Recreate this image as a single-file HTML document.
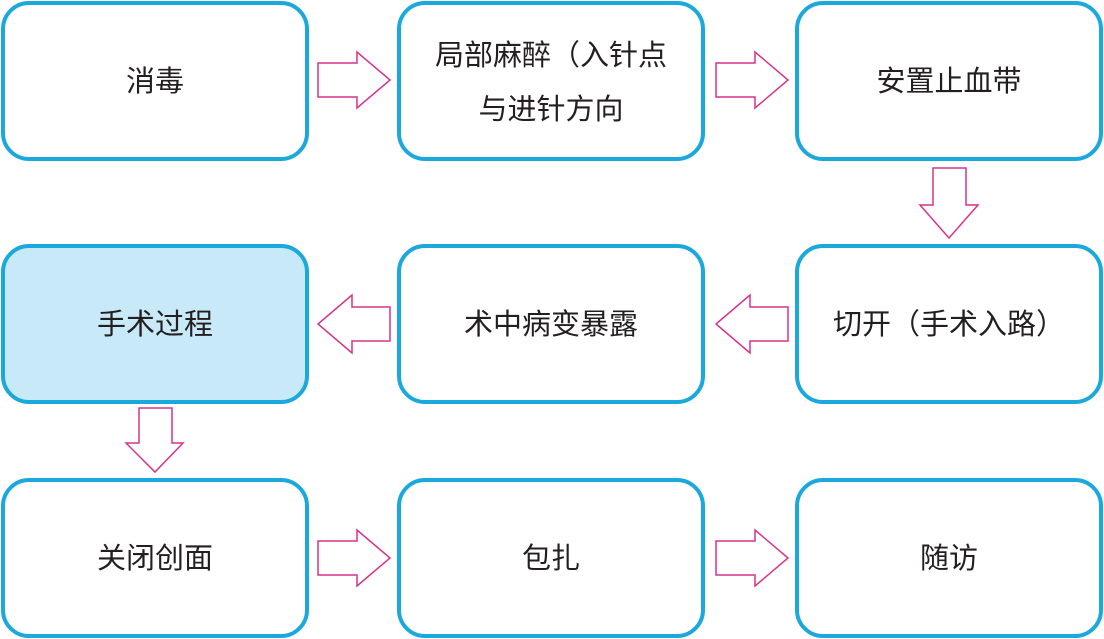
<!DOCTYPE html>
<html><head><meta charset="utf-8"><style>
html,body{margin:0;padding:0;background:#fff;}
svg{display:block}
text{font-family:"Liberation Sans","Noto Sans CJK SC",sans-serif;font-size:29px;fill:#231f20;text-anchor:middle;}
</style></head><body>
<svg width="1104" height="639" viewBox="0 0 1104 639">
<g fill="#fff" stroke="#1ba9dd" stroke-width="4">
<rect x="3" y="3" width="304" height="156" rx="26"/>
<rect x="399" y="3" width="304" height="156" rx="26"/>
<rect x="797" y="3" width="304" height="156" rx="26"/>
<rect x="3" y="246" width="304" height="156" rx="26" fill="#c8e9f8"/>
<rect x="399" y="246" width="304" height="156" rx="26"/>
<rect x="797" y="246" width="304" height="156" rx="26"/>
<rect x="3" y="480" width="304" height="156" rx="26"/>
<rect x="399" y="480" width="304" height="156" rx="26"/>
<rect x="797" y="480" width="304" height="156" rx="26"/>
</g>
<g fill="#fff" stroke="#d6338a" stroke-width="1.5">
<polygon points="318,63 357,63 357,52 390,80 357,108 357,97 318,97"/>
<polygon points="716,63 755,63 755,52 788,80 755,108 755,97 716,97"/>
<polygon points="933,168 966,168 966,205 978,205 949,238 920,205 933,205"/>
<polygon points="390,307 352,307 352,295 318,324 352,353 352,341 390,341"/>
<polygon points="788,307 750,307 750,295 716,324 750,353 750,341 788,341"/>
<polygon points="139,408 172,408 172,443 183,443 155,472 126,443 139,443"/>
<polygon points="318,541 357,541 357,530 390,558 357,586 357,575 318,575"/>
<polygon points="716,541 755,541 755,530 788,558 755,586 755,575 716,575"/>
</g>
<text x="155" y="91">消毒</text>
<text x="551" y="65">局部麻醉（入针点</text>
<text x="551" y="119">与进针方向</text>
<text x="949" y="91">安置止血带</text>
<text x="155" y="334">手术过程</text>
<text x="551" y="334">术中病变暴露</text>
<text x="949" y="334">切开（手术入路）</text>
<text x="155" y="568">关闭创面</text>
<text x="551" y="568">包扎</text>
<text x="949" y="568">随访</text>
</svg>
</body></html>
